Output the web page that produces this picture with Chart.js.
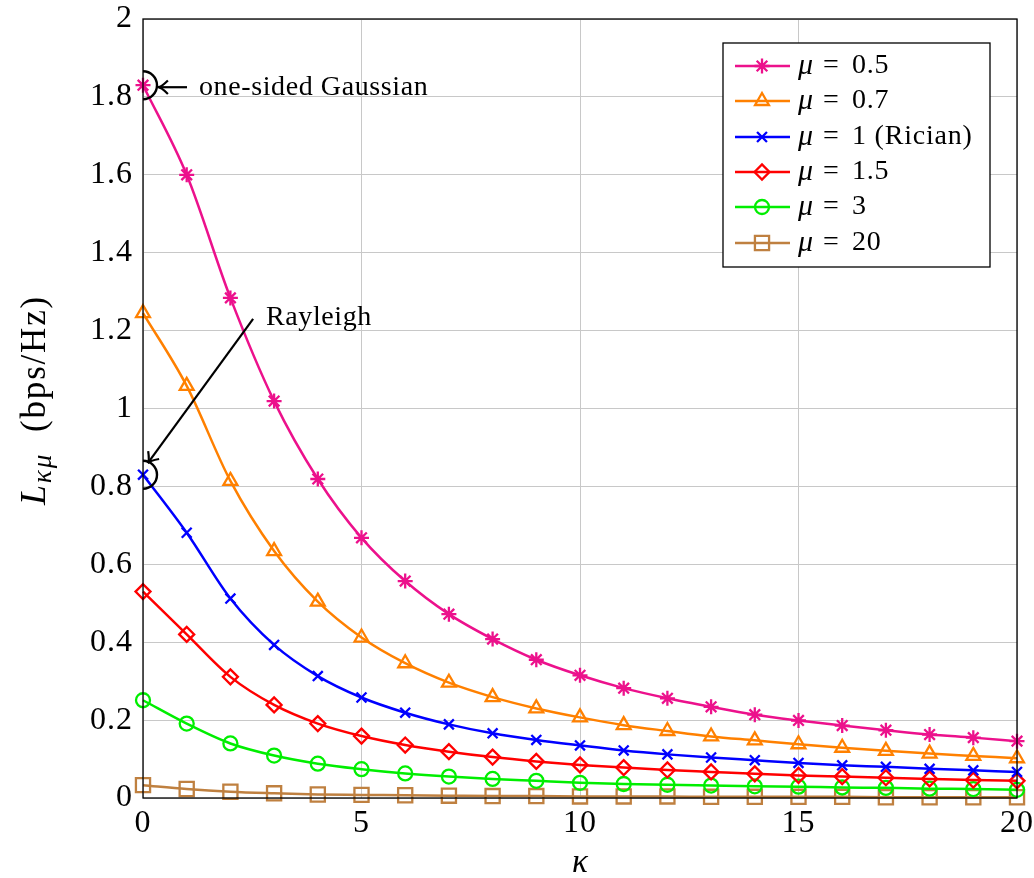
<!DOCTYPE html>
<html><head><meta charset="utf-8">
<script src="https://cdn.jsdelivr.net/npm/chart.js@4/dist/chart.umd.min.js"></script>
<style>html,body{margin:0;padding:0;background:#fff}</style>
</head><body>
<canvas id="c" width="1034" height="878"></canvas>
<script>
const kappa = [0,1,2,3,4,5,6,7,8,9,10,11,12,13,14,15,16,17,18,19,20];
const mu05 = [1.83,1.60,1.284,1.019,0.819,0.668,0.557,0.472,0.408,0.355,0.315,0.282,0.256,0.234,0.214,0.199,0.186,0.174,0.163,0.155,0.146];
const mu07 = [1.245,1.058,0.814,0.634,0.504,0.412,0.346,0.296,0.259,0.230,0.207,0.187,0.172,0.158,0.148,0.138,0.129,0.121,0.114,0.108,0.102];
const mu1  = [0.83,0.681,0.512,0.393,0.313,0.258,0.219,0.189,0.166,0.149,0.135,0.122,0.112,0.104,0.097,0.090,0.084,0.080,0.075,0.071,0.067];
const mu15 = [0.530,0.420,0.311,0.239,0.191,0.159,0.136,0.119,0.105,0.094,0.085,0.078,0.072,0.067,0.062,0.058,0.055,0.052,0.049,0.046,0.044];
const mu3  = [0.251,0.191,0.140,0.109,0.088,0.074,0.063,0.055,0.049,0.044,0.039,0.036,0.034,0.032,0.030,0.029,0.027,0.026,0.024,0.023,0.021];
const mu20 = [0.033,0.023,0.016,0.012,0.009,0.008,0.007,0.006,0.005,0.005,0.004,0.004,0.004,0.003,0.003,0.003,0.003,0.002,0.002,0.002,0.002];
const seriesLabels = ["0.5","0.7","1 (Rician)","1.5","3","20"];
const xTickLabels = ["0","5","10","15","20"];
const yTickLabels = ["0","0.2","0.4","0.6","0.8","1","1.2","1.4","1.6","1.8","2"];

const SERIF = '"Liberation Serif","DejaVu Serif",serif';
const styles = [
  {color:'#ec118c', point:'star', r:7.5},
  {color:'#ff8000', point:'triangle', r:8},
  {color:'#0000ff', point:'crossRot', r:7},
  {color:'#ff0000', point:'rectRot', r:7.5},
  {color:'#00ee00', point:'circle', r:7},
  {color:'#bf8040', point:'rect', r:10}
];
const series = [mu05, mu07, mu1, mu15, mu3, mu20];

const datasets = series.map((s,i)=>({
  label: 'μ = ' + seriesLabels[i],
  data: kappa.map((k,j)=>({x:k, y:s[j]})),
  borderColor: styles[i].color,
  backgroundColor: 'rgba(0,0,0,0)',
  pointBackgroundColor: 'rgba(0,0,0,0)',
  pointBorderColor: styles[i].color,
  pointStyle: styles[i].point,
  pointRadius: styles[i].r,
  pointBorderWidth: 2.3,
  borderWidth: 2.5,
  cubicInterpolationMode: 'monotone',
  clip: false
}));

function arrowHead(ctx, tx, ty, fx, fy){
  const a = Math.atan2(ty-fy, tx-fx);
  const L = 12, w = 0.6;
  ctx.beginPath();
  ctx.moveTo(tx - L*Math.cos(a-w), ty - L*Math.sin(a-w));
  ctx.quadraticCurveTo(tx - 3*Math.cos(a), ty - 3*Math.sin(a), tx, ty);
  ctx.quadraticCurveTo(tx - 3*Math.cos(a), ty - 3*Math.sin(a), tx - L*Math.cos(a+w), ty - L*Math.sin(a+w));
  ctx.stroke();
}

const spacing = {
  id:'spacing',
  beforeDraw(chart){ chart.ctx.letterSpacing = '1px'; }
};

const overlay = {
  id:'overlay',
  afterDraw(chart){
    const ctx = chart.ctx, ca = chart.chartArea;
    const xs = chart.scales.x, ys = chart.scales.y;
    ctx.save();
    ctx.letterSpacing = '0px';
    // axis box
    ctx.strokeStyle = '#000'; ctx.lineWidth = 1.3;
    ctx.strokeRect(ca.left, ca.top, ca.right-ca.left, ca.bottom-ca.top);

    // annotations: semicircles
    ctx.save();
    ctx.beginPath(); ctx.rect(ca.left, ca.top, ca.right-ca.left, ca.bottom-ca.top); ctx.clip();
    ctx.lineWidth = 2.4; ctx.strokeStyle = '#000';
    [[0, mu05[0]],[0, mu1[0]]].forEach(p=>{
      ctx.beginPath();
      ctx.arc(xs.getPixelForValue(p[0]), ys.getPixelForValue(p[1]), 14, 0, Math.PI*2);
      ctx.stroke();
    });
    ctx.restore();

    ctx.lineWidth = 2.2; ctx.strokeStyle = '#000';
    // one-sided Gaussian arrow
    const gy = ys.getPixelForValue(mu05[0]) + 2;
    const gx0 = xs.getPixelForValue(0) + 15, gx1 = gx0 + 29;
    ctx.beginPath(); ctx.moveTo(gx1, gy); ctx.lineTo(gx0+1, gy); ctx.stroke();
    arrowHead(ctx, gx0, gy, gx1, gy);
    ctx.fillStyle = '#000';
    ctx.font = '28px ' + SERIF;
    ctx.letterSpacing = '0.6px';
    ctx.textBaseline = 'middle'; ctx.textAlign = 'left';
    ctx.fillText('one-sided Gaussian', 199, gy);

    // Rayleigh arrow
    const rx0 = xs.getPixelForValue(2.52), ry0 = ys.getPixelForValue(1.23);
    const rx1 = xs.getPixelForValue(0.11), ry1 = ys.getPixelForValue(0.86);
    ctx.beginPath(); ctx.moveTo(rx0, ry0); ctx.lineTo(rx1, ry1); ctx.stroke();
    arrowHead(ctx, rx1, ry1, rx0, ry0);
    ctx.fillText('Rayleigh', 266, ry0 - 1);

    // legend
    const lx = 723, ly = 43, lw = 267, lh = 224;
    ctx.fillStyle = '#fff'; ctx.fillRect(lx, ly, lw, lh);
    ctx.strokeStyle = '#000'; ctx.lineWidth = 1.3; ctx.strokeRect(lx, ly, lw, lh);
    const rows = [66, 101, 137, 172, 207, 243];
    rows.forEach((yy,i)=>{
      const st = styles[i];
      ctx.strokeStyle = st.color; ctx.lineWidth = 2.5;
      ctx.beginPath(); ctx.moveTo(735, yy); ctx.lineTo(790, yy); ctx.stroke();
      ctx.lineWidth = 2.3;
      ctx.fillStyle = 'rgba(0,0,0,0)';
      Chart.helpers.drawPoint(ctx, {pointStyle: st.point, radius: st.r, rotation: 0, borderWidth: 2.3}, 762, yy);
      ctx.fillStyle = '#000'; ctx.textBaseline = 'middle'; ctx.textAlign='left';
      ctx.letterSpacing = '0px';
      ctx.font = 'italic 30px ' + SERIF;
      ctx.fillText('μ', 798, yy);
      ctx.font = '28px ' + SERIF;
      ctx.fillText('=', 823, yy);
      ctx.letterSpacing = '0.8px';
      ctx.fillText(seriesLabels[i], 852, yy);
    });

    // axis titles
    ctx.letterSpacing = '0px';
    ctx.fillStyle = '#000';
    ctx.font = 'italic 33px ' + SERIF;
    ctx.textAlign = 'center'; ctx.textBaseline = 'middle';
    ctx.fillText('κ', 580, 863);

    ctx.save();
    ctx.translate(33, 400);
    ctx.rotate(-Math.PI/2);
    ctx.textAlign = 'left'; ctx.textBaseline = 'alphabetic';
    ctx.letterSpacing = '1.8px';
    ctx.font = 'italic 36px ' + SERIF;
    const wL = ctx.measureText('L').width;
    ctx.font = 'italic 27px ' + SERIF;
    const wS = ctx.measureText('κμ').width;
    ctx.font = '35px ' + SERIF;
    const wR = ctx.measureText('  (bps/Hz)').width;
    let x0 = -(wL + wS + wR)/2;
    const base = 12;
    ctx.font = 'italic 36px ' + SERIF; ctx.fillText('L', x0, base); x0 += wL;
    ctx.font = 'italic 27px ' + SERIF; ctx.fillText('κμ', x0, base + 6); x0 += wS;
    ctx.font = '35px ' + SERIF; ctx.fillText('  (bps/Hz)', x0, base);
    ctx.restore();
    ctx.restore();
  }
};

new Chart(document.getElementById('c'), {
  type: 'line',
  data: { datasets },
  options: {
    responsive: false,
    animation: false,
    layout: { padding: { top: 19, right: 17, left: 0, bottom: 0 } },
    plugins: { legend: { display: false }, tooltip: { enabled: false } },
    scales: {
      x: {
        type: 'linear', min: 0, max: 20,
        afterFit(s){ s.height = 80; s.paddingLeft = 0; s.paddingRight = 0; },
        afterBuildTicks(s){ s.ticks = xTickLabels.map(v=>({value: parseFloat(v)})); },
        ticks: { callback: (v,i)=>xTickLabels[i], color:'#000', font:{family: SERIF, size: 32}, padding: 6, maxRotation: 0 },
        grid: { color: '#c8c8c8', lineWidth: 1, drawTicks: false },
        border: { display: false }
      },
      y: {
        min: 0, max: 2,
        afterFit(s){ s.width = 143; s.paddingTop = 0; s.paddingBottom = 0; },
        afterBuildTicks(s){ s.ticks = yTickLabels.map(v=>({value: parseFloat(v)})); },
        ticks: { callback: (v,i)=>yTickLabels[i], color:'#000', font:{family: SERIF, size: 32}, padding: 10 },
        grid: { color: '#c8c8c8', lineWidth: 1, drawTicks: false },
        border: { display: false }
      }
    }
  },
  plugins: [spacing, overlay]
});
</script>
</body></html>
